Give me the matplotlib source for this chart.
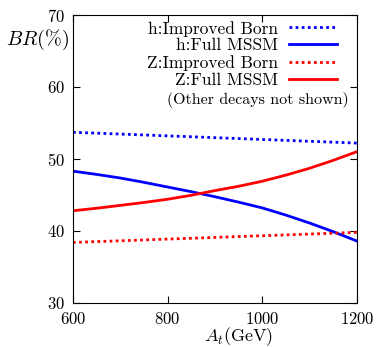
import matplotlib
matplotlib.use("Agg")
import matplotlib.pyplot as plt

plt.rcParams['font.family'] = 'cmr10'
plt.rcParams['mathtext.fontset'] = 'cm'
plt.rcParams['axes.formatter.use_mathtext'] = True

At = [600, 650, 700, 750, 800, 850, 900, 950, 1000, 1050, 1100, 1150, 1200]
h_born = [53.7, 53.58, 53.45, 53.33, 53.2, 53.08, 52.95, 52.83, 52.7, 52.58, 52.45, 52.33, 52.2]
h_full = [48.3, 47.85, 47.35, 46.75, 46.1, 45.45, 44.75, 44.0, 43.2, 42.2, 41.1, 39.9, 38.6]
z_born = [38.4, 38.52, 38.63, 38.75, 38.87, 38.98, 39.1, 39.22, 39.33, 39.45, 39.57, 39.68, 39.8]
z_full = [42.8, 43.15, 43.55, 43.95, 44.4, 44.95, 45.6, 46.2, 46.9, 47.75, 48.7, 49.8, 51.0]

fig = plt.figure(figsize=(3.8, 3.47), dpi=100)
ax = fig.add_axes([0.192, 0.127, 0.747, 0.83])

ax.plot(At, h_born, color='blue', lw=2.0, ls=(0, (1, 1.2)), label='h:Improved Born')
ax.plot(At, h_full, color='blue', lw=2.0, label='h:Full MSSM')
ax.plot(At, z_born, color='red', lw=2.0, ls=(0, (1, 1.2)), label='Z:Improved Born')
ax.plot(At, z_full, color='red', lw=2.0, label='Z:Full MSSM')

ax.set_xlim(600, 1200)
ax.set_ylim(30, 70)
ax.set_xticks([600, 800, 1000, 1200])
ax.set_yticks([30, 40, 50, 60, 70])
ax.tick_params(direction='in', top=True, right=True, labelsize=12, length=5, pad=6)

# axis labels sit off-centre in the original
ax.set_xlabel('$A_t$(GeV)', fontsize=13)
ax.xaxis.set_label_coords(0.583, -0.078)
fig.text(0.015, 0.885, '$BR$(%)', fontsize=14.5, ha='left', va='center')

leg = ax.legend(loc='upper right', bbox_to_anchor=(0.93, 0.98), frameon=False,
                markerfirst=False, fontsize=12.5, handlelength=2.75,
                labelspacing=0.09, borderaxespad=0, borderpad=0,
                handletextpad=0.65)
for t in leg.get_texts():
    t.set_ha('right')
ax.text(0.97, 0.705, '(Other decays not shown)', transform=ax.transAxes,
        ha='right', va='center', fontsize=11.5)

plt.savefig('out.png', dpi=100)
